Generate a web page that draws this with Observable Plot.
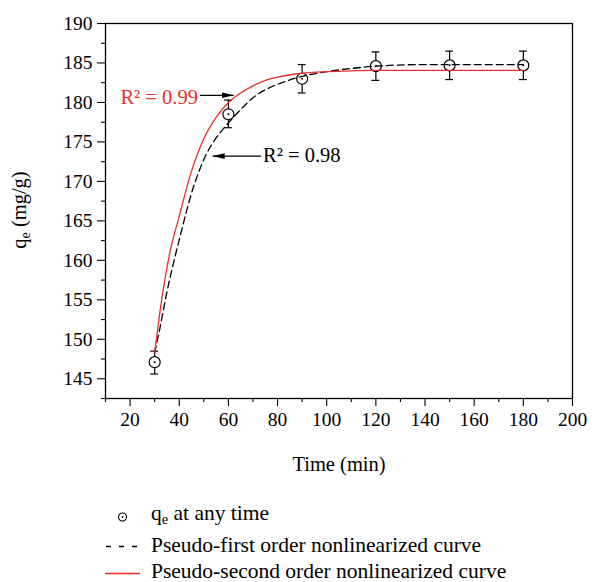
<!DOCTYPE html>
<html>
<head>
<meta charset="utf-8">
<script src="https://cdn.jsdelivr.net/npm/d3@7"></script>
<script src="https://cdn.jsdelivr.net/npm/@observablehq/plot@0.6"></script>
<style>
  html, body { margin: 0; padding: 0; background: #fff; }
  #wrap { position: relative; width: 592px; height: 582px; font-family: "Liberation Serif", serif; }
  #legend { position: absolute; left: 0; top: 490px; }
</style>
</head>
<body>
<div id="wrap"></div>
<script>
// Experimental data: time (min), qe (mg/g), error bar low/high
const times = [30, 60, 90, 120, 150, 180];
const qe    = [147.1, 178.5, 183.0, 184.6, 184.7, 184.7];
const errLo = [145.6, 176.8, 181.2, 182.8, 182.9, 182.9];
const errHi = [148.5, 180.3, 184.8, 186.4, 186.5, 186.5];

// Pseudo-first order fitted curve
const pfoT = [30, 32, 35, 40, 45.5, 50.8, 55, 60, 65, 70, 75, 80, 90, 100, 110, 120, 140, 160, 180];
const pfoQ = [148.3, 151.2, 156.0, 162.6, 169.0, 173.3, 175.5, 177.4, 179.1, 180.6, 181.6, 182.3, 183.3, 183.9, 184.3, 184.6, 184.8, 184.8, 184.8];

// Pseudo-second order fitted curve
const psoT = [30, 33, 36, 40, 45, 50, 55, 60, 65, 70, 75, 80, 90, 100, 110, 120, 150, 180];
const psoQ = [148.3, 155.3, 160.7, 165.6, 171.3, 175.4, 178.1, 180.0, 181.2, 182.1, 182.8, 183.2, 183.7, 183.9, 184.0, 184.05, 184.05, 184.05];

// Tick values
const xMajor = [20, 40, 60, 80, 100, 120, 140, 160, 180, 200];
const xMinor = [10, 30, 50, 70, 90, 110, 130, 150, 170, 190];
const yMajor = [145, 150, 155, 160, 165, 170, 175, 180, 185, 190];
const yMinor = [142.5, 147.5, 152.5, 157.5, 162.5, 167.5, 172.5, 177.5, 182.5, 187.5];

// Annotations
const annot1 = {s: "R² = 0.99", x: 47.6, y: 180.6};
const annot2 = {s: "R² = 0.98", x: 74.1, y: 173.3};
const arrowX1 = [48.4, 73.3];
const arrowX2 = [62.2, 53.6];
const arrowY = [180.9, 173.2];

const red = "#e4312b";
const serif = '"Liberation Serif", serif';

const points = times.map((t, i) => ({t, q: qe[i], lo: errLo[i], hi: errHi[i]}));
const pfo = pfoT.map((t, i) => ({t, q: pfoQ[i]}));
const pso = psoT.map((t, i) => ({t, q: psoQ[i]}));
const arrows = arrowX1.map((x1, i) => ({x1, x2: arrowX2[i], y: arrowY[i]}));

const plot = Plot.plot({
  width: 592,
  height: 490,
  marginTop: 23,
  marginBottom: 92,
  marginLeft: 105,
  marginRight: 20,
  style: {fontFamily: serif, fontSize: "19px", color: "black", background: "white"},
  x: {domain: [10, 200]},
  y: {domain: [142.5, 190]},
  marks: [
    Plot.axisY(yMinor, {tickSize: 4, text: null, label: null, strokeWidth: 1.1}),
    Plot.axisY(yMajor, {tickSize: 8, tickPadding: 5, label: null, fontSize: 19.5, strokeWidth: 1.1}),
    Plot.axisX(xMinor, {tickSize: 4, text: null, label: null, strokeWidth: 1.1}),
    Plot.axisX(xMajor, {tickSize: 8, tickPadding: 6, fontSize: 19.5, strokeWidth: 1.1, label: null}),
    Plot.axisX({ticks: [], tickSize: 0, label: "Time (min)", labelAnchor: "center", labelOffset: 72, labelArrow: "none", fontSize: 20.5}),
    Plot.frame({stroke: "black", strokeWidth: 1.3}),
    Plot.ruleX(points, {x: "t", y1: "lo", y2: "hi", stroke: "black", strokeWidth: 1.2}),
    Plot.ruleY(points, {y: "lo", x1: d => d.t - 1.6, x2: d => d.t + 1.6, stroke: "black", strokeWidth: 1.2}),
    Plot.ruleY(points, {y: "hi", x1: d => d.t - 1.6, x2: d => d.t + 1.6, stroke: "black", strokeWidth: 1.2}),
    Plot.dot(points, {x: "t", y: "q", r: 5.5, fill: "white", stroke: "black", strokeWidth: 1.2}),
    Plot.line(pfo, {x: "t", y: "q", stroke: "black", strokeWidth: 1.3, strokeDasharray: "7,4", curve: "monotone-x"}),
    Plot.line(pso, {x: "t", y: "q", stroke: red, strokeWidth: 1.3, curve: "monotone-x"}),
    Plot.dot(points, {x: "t", y: "q", r: 1, fill: "black"}),
    Plot.link(arrows, {x1: "x1", x2: "x2", y1: "y", y2: "y", stroke: "black", strokeWidth: 1.2}),
    Plot.text([annot1], {x: "x", y: "y", text: "s", fill: red, textAnchor: "end", fontSize: 20.5}),
    Plot.text([annot2], {x: "x", y: "y", text: "s", fill: "black", textAnchor: "start", fontSize: 20.5})
  ]
});

// filled arrowheads for annotation links
const svg = d3.select(plot);
svg.append("defs").append("marker")
  .attr("id", "ahead").attr("viewBox", "0 0 12 8").attr("refX", 12).attr("refY", 4)
  .attr("markerWidth", 12).attr("markerHeight", 8).attr("markerUnits", "userSpaceOnUse")
  .attr("orient", "auto")
  .append("path").attr("d", "M0,1.2 L12,4 L0,6.8 Z").attr("fill", "black");
svg.selectAll('g[aria-label="link"] path').attr("marker-end", "url(#ahead)");

// y axis label with subscript
const yl = svg.append("text")
  .attr("transform", "translate(26,210) rotate(-90)")
  .attr("text-anchor", "middle")
  .attr("font-family", serif)
  .attr("font-size", 20.5).attr("fill", "black");
yl.append("tspan").text("q");
yl.append("tspan").attr("font-size", 14).attr("dy", 4).text("e");
yl.append("tspan").attr("dy", -4).text(" (mg/g)");

const wrap = document.getElementById("wrap");
wrap.appendChild(plot);

// legend
const leg = d3.create("svg").attr("id", "legend").attr("width", 592).attr("height", 92)
  .attr("font-family", serif).attr("font-size", 21.5);
// row 1
leg.append("circle").attr("cx", 122.5).attr("cy", 27).attr("r", 4).attr("fill", "white").attr("stroke", "black").attr("stroke-width", 1.2);
leg.append("circle").attr("cx", 122.5).attr("cy", 27).attr("r", 0.9).attr("fill", "black");
const t1 = leg.append("text").attr("x", 151).attr("y", 30);
t1.append("tspan").text("q");
t1.append("tspan").attr("font-size", 14.5).attr("dy", 4).text("e");
t1.append("tspan").attr("dy", -4).text(" at any time");
// row 2
leg.append("line").attr("x1", 106).attr("x2", 140).attr("y1", 56.5).attr("y2", 56.5)
  .attr("stroke", "black").attr("stroke-width", 1.3).attr("stroke-dasharray", "5,8");
leg.append("text").attr("x", 151).attr("y", 62).text("Pseudo-first order nonlinearized curve");
// row 3
leg.append("line").attr("x1", 105).attr("x2", 140).attr("y1", 83.5).attr("y2", 83.5)
  .attr("stroke", red).attr("stroke-width", 1.3);
leg.append("text").attr("x", 151).attr("y", 88).text("Pseudo-second order nonlinearized curve");
wrap.appendChild(leg.node());
</script>
</body>
</html>
